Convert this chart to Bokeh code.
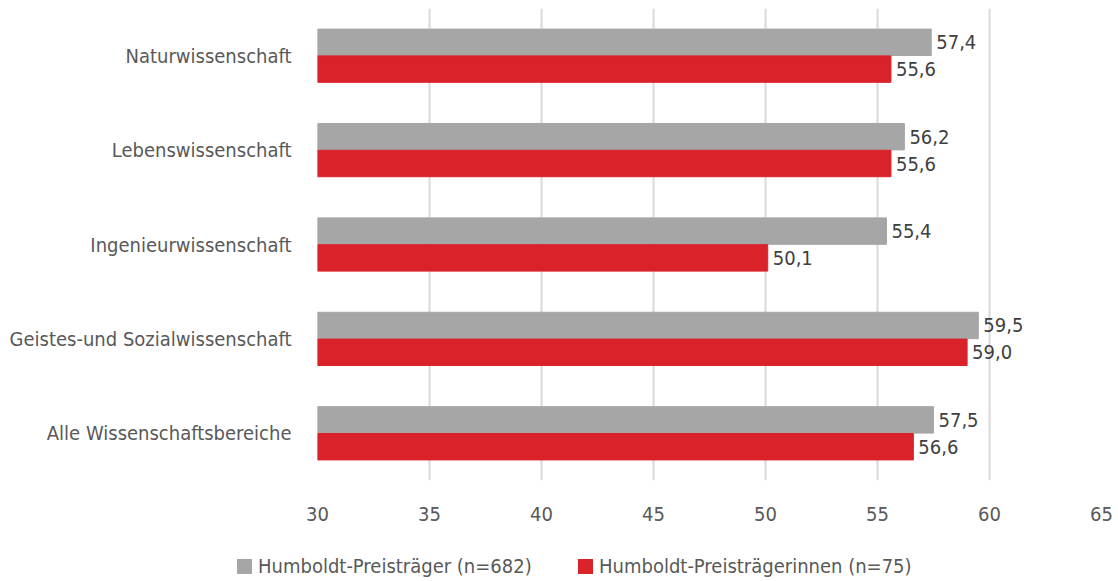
from bokeh.plotting import figure
from bokeh.layouts import column
from bokeh.models import FactorRange, ColumnDataSource, FixedTicker, Div
from bokeh.core.properties import value
from bokeh.transform import dodge
from bokeh.embed import file_html
from bokeh.resources import INLINE

categories = [
    "Naturwissenschaft",
    "Lebenswissenschaft",
    "Ingenieurwissenschaft",
    "Geistes-und Sozialwissenschaft",
    "Alle Wissenschaftsbereiche",
]
preistraeger = [57.4, 56.2, 55.4, 59.5, 57.5]
preistraegerinnen = [55.6, 55.6, 50.1, 59.0, 56.6]
series_names = ["Humboldt-Preisträger (n=682)", "Humboldt-Preisträgerinnen (n=75)"]
x_ticks = [30, 35, 40, 45, 50, 55, 60, 65]

FONT = "DejaVu Sans Condensed"
GREY = "#a6a6a6"
RED = "#da222b"
FS = "20px"

def fmt(v):
    return f"{v:.1f}".replace(".", ",")

src = ColumnDataSource(dict(
    cat=categories,
    base=[30] * len(categories),
    m=preistraeger,
    f=preistraegerinnen,
    m_lab=[fmt(v) for v in preistraeger],
    f_lab=[fmt(v) for v in preistraegerinnen],
))

p = figure(
    width=1118, height=540,
    y_range=FactorRange(*reversed(categories), range_padding=0),
    x_range=(30, 65),
    output_backend="svg", toolbar_location=None,
    min_border_left=317, min_border_right=17,
    min_border_top=8, min_border_bottom=60,
)
p.outline_line_color = None
p.background_fill_color = "white"
p.border_fill_color = "white"

bar_h = 0.28
off = 0.142
p.hbar(y=dodge("cat", off, range=p.y_range), left="base", right="m",
       height=bar_h, color=GREY, source=src)
p.hbar(y=dodge("cat", -off, range=p.y_range), left="base", right="f",
       height=bar_h, color=RED, source=src)

# value labels at the end of each bar
for col, lab, dy in (("m", "m_lab", off), ("f", "f_lab", -off)):
    p.text(x=col, y=dodge("cat", dy, range=p.y_range), text=lab, source=src,
           x_offset=5, text_align="left", text_baseline="middle",
           text_font=value(FONT), text_font_size=FS, text_color="#404040")

p.xaxis.ticker = FixedTicker(ticks=x_ticks)
for ax in (p.xaxis, p.yaxis):
    ax.axis_line_color = None
    ax.major_tick_line_color = None
    ax.minor_tick_line_color = None
    ax.major_label_text_font = FONT
    ax.major_label_text_font_size = FS
    ax.major_label_text_color = "#595959"
p.xaxis.major_label_standoff = 20
p.yaxis.major_label_standoff = 20

p.xgrid.grid_line_color = "#d9d9d9"
p.xgrid.grid_line_width = 2
p.ygrid.grid_line_color = None

# legend strip under the chart
def legend_item(color, label, width):
    return (
        f'<span style="display:inline-flex;align-items:center;width:{width}">'
        f'<span style="display:inline-block;width:15px;height:15px;background:{color};'
        f'margin-right:6px"></span>{label}</span>'
    )

legend_html = (
    f'<div style="font-family:\'{FONT}\';font-size:{FS};color:#595959;'
    f'display:flex;align-items:center;height:41px;padding-left:237px;'
    f'padding-top:11px;box-sizing:border-box;white-space:nowrap">'
    + legend_item(GREY, series_names[0], "341px")
    + legend_item(RED, series_names[1], "auto")
    + "</div>"
)
legend_div = Div(text=legend_html, width=1118, height=41, margin=0)

open("out.html", "w").write(file_html(column(p, legend_div, spacing=0), INLINE))
